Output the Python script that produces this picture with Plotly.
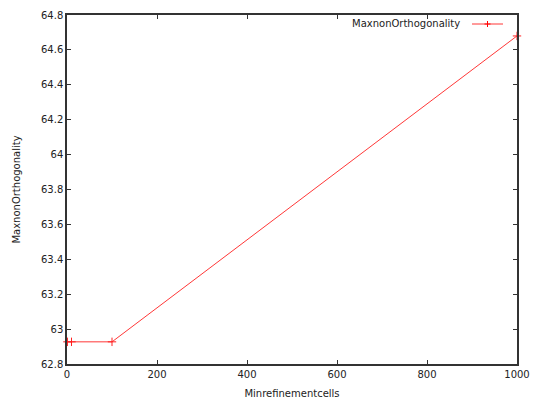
import plotly.graph_objects as go

min_refinement_cells = [1, 10, 100, 1000]
max_non_orthogonality = [62.927, 62.927, 62.927, 64.68]
x_ticks = [0, 200, 400, 600, 800, 1000]
y_ticks = [62.8, 63.0, 63.2, 63.4, 63.6, 63.8, 64.0, 64.2, 64.4, 64.6, 64.8]
y_tick_text = ["62.8", "63", "63.2", "63.4", "63.6", "63.8", "64", "64.2", "64.4", "64.6", "64.8"]

font = dict(family="DejaVu Sans", size=10, color="#222222")
axis_col = "#333333"

L, R, T, B = 67, 517, 15, 364
W, H = R - L, B - T

fig = go.Figure()
fig.add_trace(go.Scatter(
    x=min_refinement_cells, y=max_non_orthogonality,
    mode="lines+markers",
    line=dict(color="#ff2020", width=0.9),
    marker=dict(symbol="cross-thin-open", size=6, line=dict(color="#ff0000", width=1)),
    cliponaxis=False, showlegend=False, name="MaxnonOrthogonality",
))

# legend (gnuplot style: text then sample)
ly = 1 - (24 - T) / H
fig.add_annotation(x=(462 - L) / W, y=ly, xref="x domain", yref="y domain",
                   text="MaxnonOrthogonality", showarrow=False, font=font,
                   xanchor="right", yanchor="middle")
fig.add_shape(type="line", xref="x domain", yref="y domain",
              x0=(472 - L) / W, x1=(503 - L) / W, y0=ly, y1=ly,
              line=dict(color="#ff2020", width=0.9))
fig.add_shape(type="line", xref="x domain", yref="y domain",
              x0=(487.5 - L) / W, x1=(487.5 - L) / W,
              y0=1 - (21 - T) / H, y1=1 - (27 - T) / H,
              line=dict(color="#ff0000", width=1))
fig.add_shape(type="line", xref="x domain", yref="y domain",
              x0=(484.5 - L) / W, x1=(490.5 - L) / W, y0=ly, y1=ly,
              line=dict(color="#ff0000", width=1))

fig.update_xaxes(range=[0, 1000], tickvals=x_ticks, ticks="inside", ticklen=4,
                 tickcolor=axis_col, showline=True, linecolor=axis_col, linewidth=1.5,
                 mirror="ticks", showgrid=False, zeroline=False, tickfont=font,
                 automargin=False,
                 title=dict(text="Minrefinementcells", font=font, standoff=12))
fig.update_yaxes(range=[62.8, 64.8], tickvals=y_ticks, ticktext=y_tick_text, ticks="inside",
                 ticklen=4, tickcolor=axis_col, showline=True, linecolor=axis_col, linewidth=1.5,
                 mirror="ticks", showgrid=False, zeroline=False, tickfont=font,
                 automargin=False,
                 title=dict(text="MaxnonOrthogonality", font=font, standoff=18))
fig.update_layout(width=535, height=399, margin=dict(l=L, r=535 - R, t=T, b=399 - B),
                  plot_bgcolor="white", paper_bgcolor="white")
fig.write_html("out.html")
